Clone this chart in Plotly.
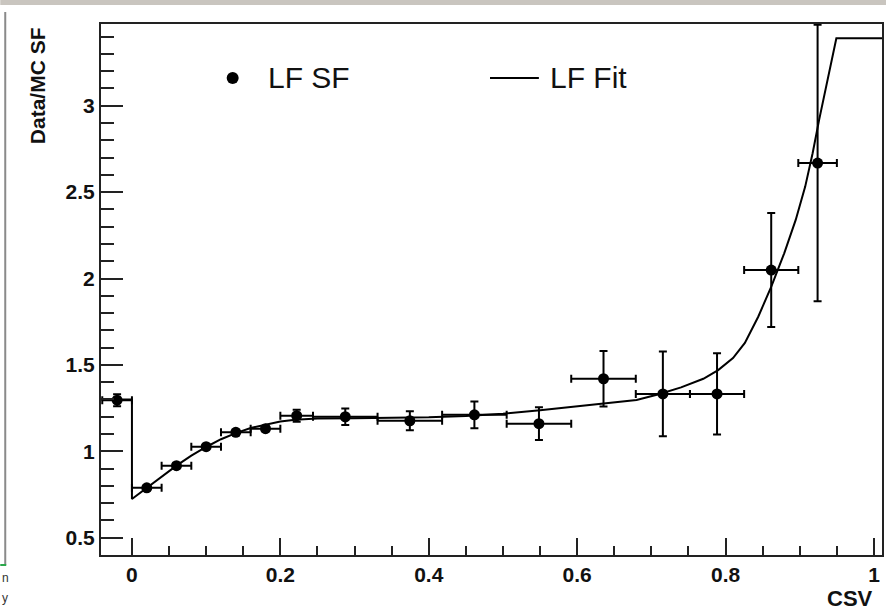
import plotly.graph_objects as go

# ---- data: LF scale factor points ----
csv_x = [-0.02, 0.02, 0.06, 0.10, 0.14, 0.18, 0.222, 0.2875, 0.3745, 0.4615,
         0.5485, 0.6355, 0.7155, 0.7885, 0.8615, 0.924]
csv_xerr = [0.02, 0.02, 0.02, 0.02, 0.02, 0.02, 0.022, 0.0435, 0.0435, 0.0435,
            0.0435, 0.0435, 0.0365, 0.0365, 0.0365, 0.026]
sf_y = [1.296, 0.789, 0.917, 1.027, 1.110, 1.131, 1.206, 1.200, 1.177, 1.211,
        1.160, 1.420, 1.332, 1.332, 2.049, 2.668]
sf_yerr = [0.035, 0.015, 0.015, 0.015, 0.015, 0.015, 0.035, 0.048, 0.055, 0.078,
           0.095, 0.16, 0.245, 0.235, 0.33, 0.80]

# ---- data: LF fit curve ----
fit_x = [-0.0417, 0.0, 0.0, 0.02, 0.04, 0.06, 0.08, 0.10, 0.12, 0.14, 0.16, 0.18,
         0.20, 0.22, 0.25, 0.30, 0.35, 0.40, 0.45, 0.50, 0.55, 0.59, 0.63, 0.68,
         0.71, 0.74, 0.77, 0.79, 0.81, 0.826, 0.844, 0.8616, 0.879, 0.8945, 0.9073,
         0.9173, 0.926, 0.9328, 0.940, 0.9493, 1.0108]
fit_y = [1.30, 1.30, 0.724, 0.79, 0.855, 0.917, 0.975, 1.025, 1.07, 1.105, 1.135,
         1.155, 1.172, 1.183, 1.19, 1.192, 1.194, 1.197, 1.205, 1.218, 1.238, 1.256,
         1.272, 1.297, 1.33, 1.37, 1.42, 1.47, 1.54, 1.627, 1.779, 1.953, 2.146,
         2.339, 2.532, 2.725, 2.917, 3.052, 3.205, 3.39, 3.39]

# ---- tick labels ----
x_tickvals = [0, 0.2, 0.4, 0.6, 0.8, 1.0]
x_ticklabels = ["0", "0.2", "0.4", "0.6", "0.8", "1"]
y_tickvals = [0.5, 1.0, 1.5, 2.0, 2.5, 3.0]
y_ticklabels = ["0.5", "1", "1.5", "2", "2.5", "3"]

x_range = [-0.0417, 1.0108]
y_range = [0.40, 3.473]

AX = "#222222"
FONT = "Liberation Sans"

fig = go.Figure()

fig.add_trace(go.Scatter(
    x=fit_x, y=fit_y, mode="lines",
    line=dict(color="black", width=2),
    showlegend=False, hoverinfo="skip"))

fig.add_trace(go.Scatter(
    x=csv_x, y=sf_y, mode="markers",
    marker=dict(color="black", size=11, symbol="circle"),
    error_x=dict(type="data", array=csv_xerr, color="black", thickness=2, width=4),
    error_y=dict(type="data", array=sf_yerr, color="black", thickness=2, width=4),
    showlegend=False))

# pixel -> paper helpers for decorations
L, R, T, B = 101, 884, 24, 555
def px(x):
    return (x - L) / (R - L)
def py(y):
    return (B - y) / (B - T)

shapes = [
    # top grey band of the screenshot
    dict(type="rect", xref="paper", yref="paper", x0=px(0), x1=px(888),
         y0=py(5), y1=py(0), fillcolor="#c9c5bf", line=dict(width=0), layer="above"),
    # left frame remnant
    dict(type="line", xref="paper", yref="paper", x0=px(5), x1=px(5),
         y0=py(12), y1=py(565), line=dict(color="#8a8a8a", width=2)),
    dict(type="line", xref="paper", yref="paper", x0=px(0), x1=px(6),
         y0=py(565), y1=py(565), line=dict(color="#2aa84a", width=2)),
    # legend line
    dict(type="line", xref="paper", yref="paper", x0=px(491), x1=px(540),
         y0=py(78), y1=py(78), line=dict(color="black", width=2)),
    # legend marker
    dict(type="circle", xref="paper", yref="paper", xsizemode="pixel", ysizemode="pixel",
         xanchor=px(233), yanchor=py(78), x0=-6, x1=6, y0=-6, y1=6,
         fillcolor="black", line=dict(width=0)),
]

annotations = [
    dict(text="LF SF", xref="paper", yref="paper", x=px(266), y=py(78),
         xanchor="left", yanchor="middle", showarrow=False,
         font=dict(family=FONT, size=30, color="#111")),
    dict(text="LF Fit", xref="paper", yref="paper", x=px(549), y=py(78),
         xanchor="left", yanchor="middle", showarrow=False,
         font=dict(family=FONT, size=30, color="#111")),
    dict(text="<b>Data/MC SF</b>", xref="paper", yref="paper", x=px(37), y=py(86),
         xanchor="center", yanchor="middle", textangle=-90, showarrow=False,
         font=dict(family=FONT, size=21, color="#111")),
    dict(text="<b>CSV</b>", xref="paper", yref="paper", x=px(877), y=py(598),
         xanchor="right", yanchor="middle", showarrow=False,
         font=dict(family=FONT, size=22, color="#111")),
    dict(text="n", xref="paper", yref="paper", x=px(0), y=py(578),
         xanchor="left", yanchor="middle", showarrow=False,
         font=dict(family=FONT, size=12, color="#333")),
    dict(text="y", xref="paper", yref="paper", x=px(0), y=py(598),
         xanchor="left", yanchor="middle", showarrow=False,
         font=dict(family=FONT, size=12, color="#333")),
]

fig.update_layout(
    width=888, height=611,
    margin=dict(l=L, r=888 - R, t=T, b=611 - B, pad=0),
    paper_bgcolor="white", plot_bgcolor="white",
    shapes=shapes, annotations=annotations,
    xaxis=dict(range=x_range, showgrid=False, zeroline=False,
               showline=True, mirror=True, linecolor=AX, linewidth=2,
               ticks="inside", ticklen=17, tickwidth=2, tickcolor=AX,
               tickmode="array", tickvals=x_tickvals,
               ticktext=["<b>%s</b>" % t for t in x_ticklabels],
               minor=dict(ticks="inside", ticklen=9, tickwidth=2, tickcolor=AX,
                          tickmode="linear", tick0=0, dtick=0.05),
               tickfont=dict(family=FONT, size=21, color="#111")),
    yaxis=dict(range=y_range, showgrid=False, zeroline=False,
               showline=True, mirror=True, linecolor=AX, linewidth=2,
               ticks="inside", ticklen=22, tickwidth=2, tickcolor=AX,
               tickmode="array", tickvals=y_tickvals,
               ticktext=["<b>%s</b>" % t for t in y_ticklabels],
               minor=dict(ticks="inside", ticklen=13, tickwidth=2, tickcolor=AX,
                          tickmode="linear", tick0=0, dtick=0.1),
               tickfont=dict(family=FONT, size=21, color="#111")),
)

fig.write_html("out.html")
